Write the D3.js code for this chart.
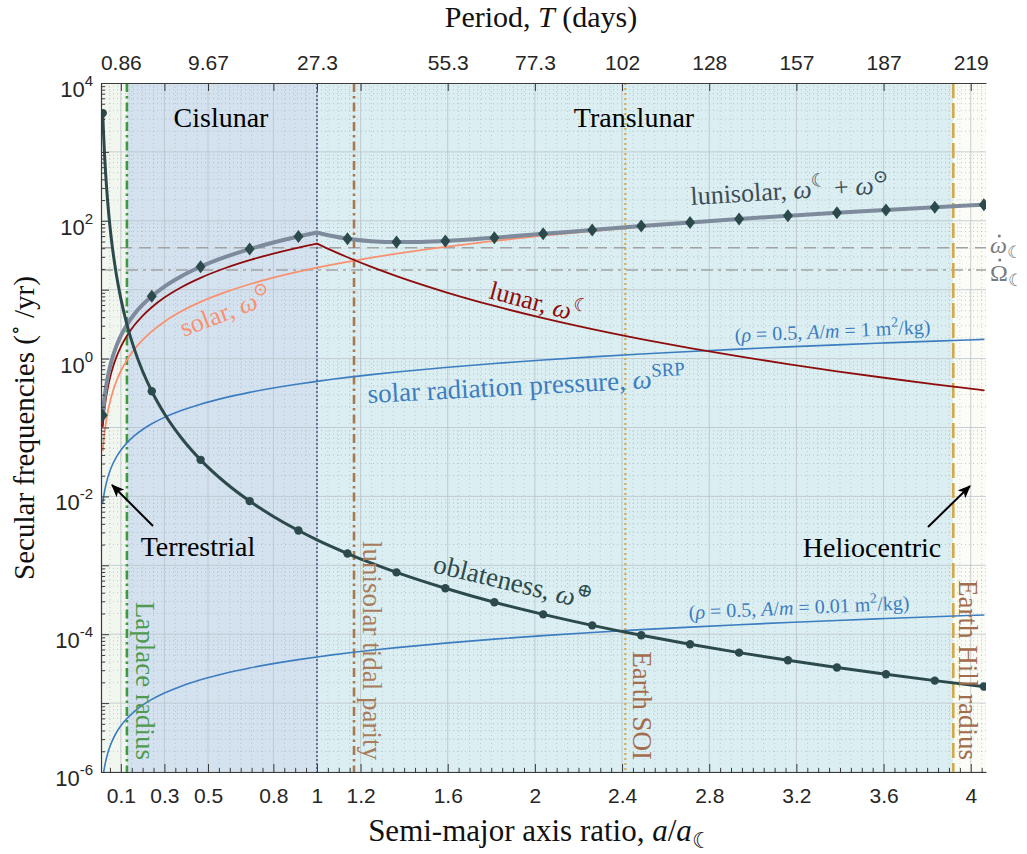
<!DOCTYPE html>
<html>
<head>
<meta charset="utf-8">
<script src="https://cdn.jsdelivr.net/npm/d3@7"></script>
<style>
  body { margin: 0; background: #ffffff; }
  svg { font-family: "Liberation Serif", "DejaVu Serif", serif; }
</style>
</head>
<body>
<svg id="chart" width="1027" height="854"></svg>
<script>
// Semi-major axis ratio a / a_moon at which every series is sampled
const aRatio = [0.017, 0.02, 0.025, 0.03, 0.04, 0.05, 0.06, 0.08, 0.1, 0.128, 0.16, 0.2, 0.242, 0.3, 0.38,
  0.466, 0.58, 0.691, 0.8, 0.915, 1.0, 1.07, 1.14, 1.25, 1.365, 1.589, 1.814, 2.038, 2.263, 2.488, 2.712,
  2.937, 3.161, 3.386, 3.611, 3.835, 4.06];

// Secular frequencies (deg / yr)
const oblateness = [3660, 2073, 949.5, 501.5, 183.1, 83.87, 44.3, 16.19, 7.41, 3.125, 1.431, 0.6555, 0.3363,
  0.1585, 0.06929, 0.03393, 0.01578, 0.008548, 0.00512, 0.0032, 0.002344, 0.001849, 0.001482, 0.001074,
  0.000789, 0.000464, 0.000291, 0.000194, 0.0001344, 0.0000964, 0.0000714, 0.000054, 0.0000418, 0.0000328,
  0.0000262, 0.0000212, 0.0000174];
const lunar = [0.1037, 0.1323, 0.1849, 0.243, 0.3742, 0.5232, 0.6875, 1.058, 1.479, 2.142, 2.993, 4.183, 5.568,
  7.685, 10.96, 14.88, 20.66, 26.87, 33.46, 40.94, 46.77, 36.91, 29.56, 21.42, 15.74, 9.25, 5.814, 3.871, 2.683,
  1.924, 1.424, 1.077, 0.8331, 0.6546, 0.523, 0.4232, 0.3469];
const solar = [0.0463, 0.05908, 0.08254, 0.1085, 0.1671, 0.2336, 0.3071, 0.4727, 0.6607, 0.9568, 1.337, 1.868,
  2.487, 3.433, 4.894, 6.645, 9.228, 12.0, 14.94, 18.29, 20.89, 23.13, 25.43, 29.21, 33.32, 41.85, 51.07, 60.78,
  71.13, 82.02, 93.33, 105.2, 117.4, 130.2, 143.3, 156.9, 170.9];
const lunisolar = [0.15, 0.1914, 0.2674, 0.3515, 0.5413, 0.7568, 0.9946, 1.531, 2.14, 3.099, 4.33, 6.051, 8.055,
  11.12, 15.85, 21.53, 29.89, 38.87, 48.4, 59.23, 67.66, 60.04, 54.99, 50.63, 49.06, 51.1, 56.88, 64.65, 73.81,
  83.94, 94.75, 106.3, 118.2, 130.9, 143.8, 157.3, 171.2];
const srpHighAm = [0.00795, 0.00935, 0.01169, 0.01403, 0.01871, 0.02339, 0.02806, 0.03742, 0.04677, 0.05987,
  0.07483, 0.09354, 0.1132, 0.1403, 0.1777, 0.218, 0.2713, 0.3232, 0.3742, 0.4279, 0.4677, 0.5004, 0.5332,
  0.5846, 0.6384, 0.7432, 0.8484, 0.9532, 1.058, 1.164, 1.268, 1.374, 1.478, 1.584, 1.689, 1.794, 1.899];
const srpLowAm = [7.95e-7, 9.35e-7, 1.169e-6, 1.403e-6, 1.871e-6, 2.339e-6, 2.806e-6, 3.742e-6, 4.677e-6,
  5.987e-6, 7.483e-6, 9.354e-6, 1.132e-5, 1.403e-5, 1.777e-5, 2.18e-5, 2.713e-5, 3.232e-5, 3.742e-5, 4.279e-5,
  4.677e-5, 5.004e-5, 5.332e-5, 5.846e-5, 6.384e-5, 7.432e-5, 8.484e-5, 9.532e-5, 1.058e-4, 1.164e-4,
  1.268e-4, 1.374e-4, 1.478e-4, 1.584e-4, 1.689e-4, 1.794e-4, 1.899e-4];

// Samples that carry a marker on the oblateness and lunisolar curves
const markerA = [0.017, 0.242, 0.466, 0.691, 0.915, 1.14, 1.365, 1.589, 1.814, 2.038, 2.263, 2.488, 2.712,
  2.937, 3.161, 3.386, 3.611, 3.835, 4.06];

// Axis ticks
const xTicks = [0.1, 0.3, 0.5, 0.8, 1, 1.2, 1.6, 2, 2.4, 2.8, 3.2, 3.6, 4];
const periodTickA = [0.1, 0.5, 1, 1.6, 2, 2.4, 2.8, 3.2, 3.6, 4];
const periodLabels = ["0.86", "9.67", "27.3", "55.3", "77.3", "102", "128", "157", "187", "219"];
const yDecades = [-6, -5, -4, -3, -2, -1, 0, 1, 2, 3, 4];
const yLabelExps = [4, 2, 0, -2, -4, -6];

// Orbital boundaries (a / a_moon) and lunar reference rates (deg / yr)
const laplaceRadius = 0.128;
const moonOrbit = 1.0;
const tidalParity = 1.17;
const earthSOI = 2.415;
const hillRadius = 3.92;
const moonPerigeeRate = 40.7;
const moonNodeRate = 19.35;

const svg = d3.select("#chart");
const plot = { left: 101, right: 986, top: 83, bottom: 772 };
const x = d3.scaleLinear().domain([0.009, 4.07]).range([plot.left, plot.right]);
const y = d3.scaleLog().domain([1e-6, 1e4]).range([plot.bottom, plot.top]);
const SANS = "'Liberation Sans', Arial, Helvetica, sans-serif";

const defs = svg.append("defs");
defs.append("clipPath").attr("id", "plot-clip").append("rect")
  .attr("x", plot.left).attr("y", plot.top)
  .attr("width", plot.right - plot.left).attr("height", plot.bottom - plot.top);
defs.append("marker").attr("id", "arrowhead").attr("viewBox", "0 0 12 10")
  .attr("refX", 11).attr("refY", 5).attr("markerWidth", 13).attr("markerHeight", 11)
  .attr("markerUnits", "userSpaceOnUse").attr("orient", "auto")
  .append("path").attr("d", "M0,0 L12,5 L0,10 L3,5 Z").attr("fill", "#000");

// Orbit regimes
const regions = [
  { from: 0.009, to: laplaceRadius, fill: "#f1f6ef" },
  { from: laplaceRadius, to: moonOrbit, fill: "#d4e2ef" },
  { from: moonOrbit, to: hillRadius, fill: "#dbeef2" },
  { from: hillRadius, to: 4.07, fill: "#fbfcf6" }
];
svg.append("g").selectAll("rect").data(regions).join("rect")
  .attr("x", d => x(d.from)).attr("y", plot.top)
  .attr("width", d => x(d.to) - x(d.from)).attr("height", plot.bottom - plot.top)
  .attr("fill", d => d.fill);

// Grid
const grid = svg.append("g").attr("clip-path", "url(#plot-clip)");
const yMinor = [];
yDecades.slice(0, -1).forEach(k => { for (let m = 2; m <= 9; m++) yMinor.push(m * Math.pow(10, k)); });
const xMinor = d3.range(1, 82).map(i => i * 0.05).filter(v => !xTicks.some(t => Math.abs(t - v) < 1e-6));
grid.selectAll(".ymin").data(yMinor).join("line")
  .attr("x1", plot.left).attr("x2", plot.right).attr("y1", d => y(d)).attr("y2", d => y(d))
  .attr("stroke", "#9aa3a8").attr("stroke-opacity", 0.55).attr("stroke-width", 1).attr("stroke-dasharray", "1,3");
grid.selectAll(".xmin").data(xMinor).join("line")
  .attr("y1", plot.top).attr("y2", plot.bottom).attr("x1", d => x(d)).attr("x2", d => x(d))
  .attr("stroke", "#9aa3a8").attr("stroke-opacity", 0.45).attr("stroke-width", 1).attr("stroke-dasharray", "1,3");
grid.selectAll(".ymaj").data(yDecades).join("line")
  .attr("x1", plot.left).attr("x2", plot.right)
  .attr("y1", d => y(Math.pow(10, d))).attr("y2", d => y(Math.pow(10, d)))
  .attr("stroke", "#b9c3c8").attr("stroke-opacity", 0.8).attr("stroke-width", 1);
grid.selectAll(".xmaj").data(xTicks).join("line")
  .attr("y1", plot.top).attr("y2", plot.bottom).attr("x1", d => x(d)).attr("x2", d => x(d))
  .attr("stroke", "#b9c3c8").attr("stroke-opacity", 0.8).attr("stroke-width", 1);

// Lunar reference rates
const refs = svg.append("g").attr("clip-path", "url(#plot-clip)");
[{ v: moonPerigeeRate, dash: "12,7" }, { v: moonNodeRate, dash: "12,5,3,5" }].forEach(r => {
  refs.append("line").attr("x1", plot.left).attr("x2", plot.right)
    .attr("y1", y(r.v)).attr("y2", y(r.v))
    .attr("stroke", "#a3a3a3").attr("stroke-width", 1.6).attr("stroke-dasharray", r.dash);
});

// Regime boundaries
const bounds = [
  { a: laplaceRadius, color: "#3f9a3f", width: 2.6, dash: "9,4,2.5,4" },
  { a: moonOrbit, color: "#3d4d8c", width: 1.4, dash: "2,2" },
  { a: tidalParity, color: "#a8794f", width: 2.6, dash: "9,4,2.5,4" },
  { a: earthSOI, color: "#cfae52", width: 2.2, dash: "2,3" },
  { a: hillRadius, color: "#d3a94e", width: 2.6, dash: "15,5" }
];
svg.append("g").selectAll("line").data(bounds).join("line")
  .attr("x1", d => x(d.a)).attr("x2", d => x(d.a)).attr("y1", plot.top).attr("y2", plot.bottom)
  .attr("stroke", d => d.color).attr("stroke-width", d => d.width).attr("stroke-dasharray", d => d.dash);

// Curves
const curves = svg.append("g").attr("clip-path", "url(#plot-clip)");
const line = d3.line().x(d => x(d[0])).y(d => y(d[1])).curve(d3.curveMonotoneX);
const iKink = aRatio.indexOf(1.0);
function drawSeries(values, color, width, splitAtMoon) {
  const pts = aRatio.map((a, i) => [a, values[i]]);
  const parts = splitAtMoon ? [pts.slice(0, iKink + 1), pts.slice(iKink)] : [pts];
  curves.append("path")
    .attr("d", parts.map(p => line(p)).join(""))
    .attr("fill", "none").attr("stroke", color).attr("stroke-width", width)
    .attr("stroke-linejoin", "round").attr("stroke-linecap", "round");
  return pts;
}
drawSeries(srpHighAm, "#3b7dc0", 1.6, false);
drawSeries(srpLowAm, "#3b7dc0", 1.6, false);
drawSeries(solar, "#f9916f", 1.8, false);
drawSeries(lunar, "#8e0c0c", 1.8, true);
const lsPts = drawSeries(lunisolar, "#7e8b9c", 4, true);
const obPts = drawSeries(oblateness, "#2c4a4c", 3, false);

const isMarker = p => markerA.some(m => Math.abs(m - p[0]) < 1e-9);
curves.append("g").selectAll("path").data(lsPts.filter(isMarker)).join("path")
  .attr("d", "M0,-6.5 L5,0 L0,6.5 L-5,0 Z")
  .attr("transform", d => `translate(${x(d[0])},${y(d[1])})`)
  .attr("fill", "#2c4a4c");
curves.append("g").selectAll("circle").data(obPts.filter(isMarker)).join("circle")
  .attr("cx", d => x(d[0])).attr("cy", d => y(d[1])).attr("r", 4.2)
  .attr("fill", "#2c4a4c");

// Axes
const axisColor = "#3a3a3a";
function styleAxis(g, fontSize) {
  g.attr("font-family", SANS);
  g.select(".domain").attr("stroke", axisColor).attr("stroke-width", 1.2);
  g.selectAll(".tick line").attr("stroke", axisColor).attr("stroke-width", 1);
  g.selectAll(".tick text").style("font-family", SANS)
    .style("font-size", fontSize + "px").attr("fill", "#262626");
}
const gBottom = svg.append("g").attr("transform", `translate(0,${plot.bottom})`)
  .call(d3.axisBottom(x).tickValues(xTicks).tickSizeInner(-8).tickSizeOuter(0).tickPadding(16)
    .tickFormat(d3.format("~g")));
styleAxis(gBottom, 21);
const gBottomMinor = svg.append("g").attr("transform", `translate(0,${plot.bottom})`)
  .call(d3.axisBottom(x).tickValues(xMinor).tickSizeInner(-4).tickSizeOuter(0).tickFormat(""));
gBottomMinor.select(".domain").remove();
styleAxis(gBottomMinor, 0);

const gTop = svg.append("g").attr("transform", `translate(0,${plot.top})`)
  .call(d3.axisTop(x).tickValues(xTicks).tickSizeInner(-8).tickSizeOuter(0).tickPadding(13)
    .tickFormat(d => { const i = periodTickA.indexOf(d); return i >= 0 ? periodLabels[i] : ""; }));
styleAxis(gTop, 21);

const gLeft = svg.append("g").attr("transform", `translate(${plot.left},0)`)
  .call(d3.axisLeft(y).tickValues(yDecades.map(k => Math.pow(10, k))).tickSizeInner(-8).tickSizeOuter(0)
    .tickFormat(""));
styleAxis(gLeft, 0);
const gLeftMinor = svg.append("g").attr("transform", `translate(${plot.left},0)`)
  .call(d3.axisLeft(y).tickValues(yMinor).tickSizeInner(-4).tickSizeOuter(0).tickFormat(""));
gLeftMinor.select(".domain").remove();
styleAxis(gLeftMinor, 0);

// Power-of-ten labels on the y axis
const yLab = svg.append("g").attr("fill", "#262626").style("font-family", SANS);
yLabelExps.forEach(k => {
  const t = yLab.append("text").attr("x", 93).attr("y", y(Math.pow(10, k)) + 14)
    .attr("text-anchor", "end").style("font-size", "22px").style("font-family", SANS);
  t.append("tspan").text("10");
  t.append("tspan").attr("dy", -11).style("font-size", "15px").text(String(k));
});

// Rich text helper: parts with optional italic / superscript / subscript
function richText(parent, parts, size, attrs) {
  const t = parent.append("text").attr("font-size", size);
  Object.entries(attrs || {}).forEach(([k, v]) => t.attr(k, v));
  let shift = 0;
  parts.forEach(p => {
    const part = typeof p === "string" ? { t: p } : p;
    const ts = t.append("tspan").text(part.t);
    let target = 0;
    if (part.sup) target = -0.42 * size;
    if (part.sub) target = 0.22 * size;
    if (target - shift !== 0) ts.attr("dy", target - shift);
    shift = target;
    if (part.sup || part.sub) ts.attr("font-size", size * (part.scale || 0.7));
    if (part.i) ts.attr("font-style", "italic");
  });
  return t;
}
function placed(xp, yp, angle) {
  return svg.append("g").attr("transform", `translate(${xp},${yp}) rotate(${angle})`);
}

// Axis titles
richText(svg, ["Period, ", { t: "T", i: true }, " (days)"], 30,
  { x: 541, y: 27, "text-anchor": "middle", fill: "#111" });
richText(svg, ["Semi-major axis ratio, ", { t: "a", i: true }, "/", { t: "a", i: true }, { t: "☾", sub: true }], 31,
  { x: 540, y: 841, "text-anchor": "middle", fill: "#111" });
richText(placed(34, 428, -90), ["Secular frequencies (", { t: "∘", sup: true }, " /yr)"], 29,
  { "text-anchor": "middle", fill: "#111" });

// Regime names
const regimeText = [
  { t: "Cislunar", x: 221, y: 127 }, { t: "Translunar", x: 634, y: 127 },
  { t: "Terrestrial", x: 198, y: 556 }, { t: "Heliocentric", x: 872, y: 557 }
];
svg.append("g").selectAll("text").data(regimeText).join("text")
  .attr("x", d => d.x).attr("y", d => d.y).attr("text-anchor", "middle")
  .attr("font-size", 28).attr("fill", "#000").text(d => d.t);
svg.append("line").attr("x1", 153).attr("y1", 526).attr("x2", 112).attr("y2", 485)
  .attr("stroke", "#000").attr("stroke-width", 2).attr("marker-end", "url(#arrowhead)");
svg.append("line").attr("x1", 928).attr("y1", 527).attr("x2", 970).attr("y2", 486)
  .attr("stroke", "#000").attr("stroke-width", 2).attr("marker-end", "url(#arrowhead)");

// Curve labels
richText(placed(691, 205, -3.5), ["lunisolar, ", { t: "ω", i: true }, { t: "☾", sup: true }, " + ",
  { t: "ω", i: true }, { t: "⊙", sup: true }], 26, { fill: "#3b4c55" });
richText(placed(184, 337, -21), ["solar, ", { t: "ω", i: true }, { t: "⊙", sup: true }], 26, { fill: "#f9916f" });
richText(placed(488, 298, 15), ["lunar, ", { t: "ω", i: true }, { t: "☾", sup: true }], 26, { fill: "#8e0c0c" });
richText(placed(368, 403, -3), ["solar radiation pressure, ", { t: "ω", i: true }, { t: "SRP", sup: true }], 27,
  { fill: "#3b7dc0" });
richText(placed(735, 342, -2.5), ["(", { t: "ρ", i: true }, " = 0.5, ", { t: "A", i: true }, "/", { t: "m", i: true },
  " = 1 m", { t: "2", sup: true }, "/kg)"], 20, { fill: "#3b7dc0" });
richText(placed(689, 619, -2.5), ["(", { t: "ρ", i: true }, " = 0.5, ", { t: "A", i: true }, "/", { t: "m", i: true },
  " = 0.01 m", { t: "2", sup: true }, "/kg)"], 20, { fill: "#3b7dc0" });
richText(placed(432, 572, 13.5), ["oblateness, ", { t: "ω", i: true }, { t: "⊕", sup: true }], 27, { fill: "#2c4a4c" });

// Reference-rate labels (dot accent drawn over the first glyph)
[{ sym: "ω", i: true, yb: 253 }, { sym: "Ω", i: false, yb: 281 }].forEach(r => {
  const t = richText(svg, [{ t: r.sym, i: r.i }, { t: "☾", sub: true }], 24, { x: 990, y: r.yb, fill: "#7a7a7a" });
  const box = t.node().getExtentOfChar(0);
  svg.append("circle").attr("cx", box.x + box.width * 0.55).attr("cy", r.yb - (r.i ? 17 : 21))
    .attr("r", 1.5).attr("fill", "#7a7a7a");
});

// Boundary labels, reading downward
const boundText = [
  { t: "Laplace radius", a: laplaceRadius, dx: 9, color: "#4f9a4f" },
  { t: "lunisolar tidal parity", a: tidalParity, dx: 9, color: "#a87c5a" },
  { t: "Earth SOI", a: earthSOI, dx: 8, color: "#a36c4c" },
  { t: "Earth Hill radius", a: hillRadius, dx: 6, color: "#a36c4c" }
];
boundText.forEach(b => {
  svg.append("text").attr("transform", `translate(${x(b.a) + b.dx},760) rotate(90)`)
    .attr("text-anchor", "end").attr("font-size", 27).attr("fill", b.color).text(b.t);
});
</script>
</body>
</html>
